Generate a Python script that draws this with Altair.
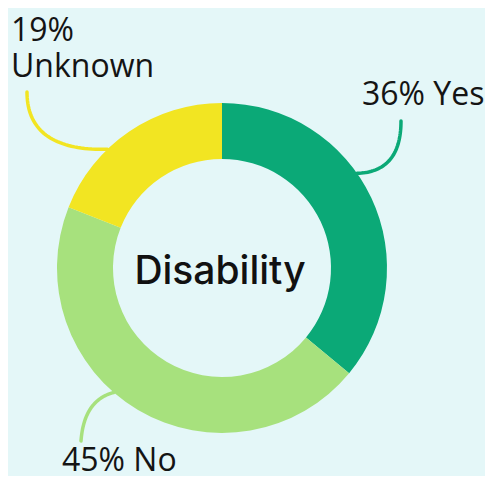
import altair as alt
import pandas as pd
import numpy as np

# ---- data ----
categories = ["Yes", "No", "Unknown"]
values = [36, 45, 19]
label_texts = ["36% Yes", "45% No", "19%\nUnknown"]
colors = ["#0BA977", "#A7E17D", "#F2E522"]
center_title = "Disability"

# ---- layout (page px, minus 8px body margin) ----
W, H = 477, 468
M = 8
CX, CY = 222 - M, 268 - M
R_OUT, R_IN = 165, 109
# leader anchor angle on the ring (deg clockwise from top), control point, end point
anchor_deg = [55, 221, 316]
ctrl_pts = [(401 - M, 172 - M), (84 - M, 400 - M), (27 - M, 151 - M)]
end_pts = [(401 - M, 121 - M), (81 - M, 441 - M), (27 - M, 92 - M)]
label_pos = [(362 - M, 105 - M), (62 - M, 471 - M), (11 - M, 41 - M)]

arc_df = pd.DataFrame({"cat": categories, "value": values, "idx": list(range(len(categories)))})

rows = []
for i, cat in enumerate(categories):
    a = np.deg2rad(anchor_deg[i])
    A = np.array([CX + R_OUT * np.sin(a), CY - R_OUT * np.cos(a)])
    C = np.array(ctrl_pts[i], dtype=float)
    E = np.array(end_pts[i], dtype=float)
    for k, t in enumerate(np.linspace(0, 1, 40)):
        p = (1 - t) ** 2 * A + 2 * (1 - t) * t * C + t ** 2 * E
        rows.append({"cat": cat, "k": k, "x": p[0], "y": p[1]})
line_df = pd.DataFrame(rows)

text_df = pd.DataFrame({
    "cat": categories,
    "label": label_texts,
    "x": [p[0] for p in label_pos],
    "y": [p[1] for p in label_pos],
})

color_scale = alt.Scale(domain=categories, range=colors)
xs = alt.Scale(domain=[0, W], range=[0, W])
ys = alt.Scale(domain=[0, H], range=[0, H])

arcs = alt.Chart(arc_df).mark_arc(radius=R_OUT, innerRadius=R_IN, stroke=None).encode(
    theta=alt.Theta("value:Q", stack=True),
    color=alt.Color("cat:N", scale=color_scale, legend=None),
    order=alt.Order("idx:Q"),
    x=alt.value(CX),
    y=alt.value(CY),
)

lines = alt.Chart(line_df).mark_line(strokeWidth=3.5, strokeCap="round").encode(
    x=alt.X("x:Q", scale=xs, axis=None),
    y=alt.Y("y:Q", scale=ys, axis=None),
    color=alt.Color("cat:N", scale=color_scale, legend=None),
    detail="cat:N",
    order="k:Q",
)

labels = alt.Chart(text_df).mark_text(
    align="left", baseline="alphabetic", font="Open Sans", fontSize=32,
    color="#141414", lineBreak="\n", lineHeight=36,
).encode(
    x=alt.X("x:Q", scale=xs, axis=None),
    y=alt.Y("y:Q", scale=ys, axis=None),
    text="label:N",
)

center = alt.Chart(pd.DataFrame({"t": [center_title]})).mark_text(
    align="center", baseline="alphabetic", font="Inter", fontSize=39, fontWeight=500,
    color="#111111",
).encode(
    x=alt.value(220 - M),
    y=alt.value(284 - M),
    text="t:N",
)

chart = alt.layer(arcs, lines, labels, center).properties(
    width=W, height=H, padding=0, autosize="none", background="#E4F7F8",
).configure_view(stroke=None)

chart.save("out.html", embed_options={"renderer": "svg", "actions": False})
